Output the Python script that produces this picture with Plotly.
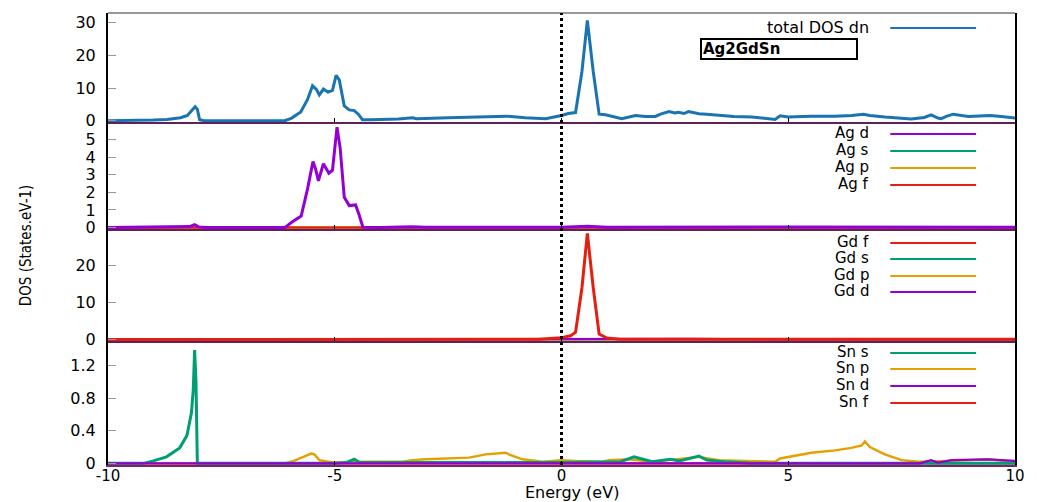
import plotly.graph_objects as go

# ---------------- data ----------------
E_total = [-10, -9.5, -9.0, -8.7, -8.4, -8.25, -8.15, -8.08, -8.03, -7.98, -7.9, -7.0, -6.1,
           -5.95, -5.75, -5.6, -5.49, -5.4, -5.34, -5.25, -5.15, -5.05, -4.97, -4.9, -4.79,
           -4.68, -4.57, -4.48, -4.39, -4.2, -3.6, -3.28, -3.2, -2.5, -1.5, -1.2, -0.8, -0.35,
           0.0, 0.15, 0.31, 0.45, 0.57, 0.7, 0.83, 0.97, 1.15, 1.33, 1.63, 1.85, 2.07, 2.2,
           2.37, 2.5, 2.58, 2.7, 2.8, 2.95, 3.03, 3.2, 3.47, 3.8, 4.2, 4.5, 4.71, 4.82, 5.0,
           5.15, 5.51, 6.03, 6.4, 6.66, 6.8, 7.13, 7.45, 7.71, 8.0, 8.15, 8.3, 8.37, 8.5, 8.64,
           8.97, 9.2, 9.45, 9.7, 10]
dos_total = [0, 0.05, 0.2, 0.4, 0.9, 1.6, 3.0, 4.3, 3.5, 0.3, 0.05, 0.0, 0.0,
             0.8, 2.7, 6.5, 10.7, 9.5, 7.9, 9.7, 8.8, 9.3, 13.9, 12.5, 4.5,
             3.3, 3.1, 2.0, 0.3, 0.3, 0.5, 0.9, 0.6, 0.9, 1.2, 1.4, 0.9, 0.6,
             1.6, 2.2, 2.5, 15.0, 30.7, 15.0, 2.0, 1.8, 1.2, 0.6, 1.6, 1.3, 1.3, 2.1,
             2.8, 2.4, 2.6, 2.2, 2.8, 2.4, 2.1, 2.0, 1.6, 1.3, 1.1, 0.8, 0.4, 1.5, 1.1,
             1.2, 1.4, 1.4, 1.6, 2.0, 1.6, 1.1, 0.8, 0.5, 1.0, 1.8, 0.8, 0.6, 1.4, 2.0,
             1.3, 1.4, 1.6, 1.3, 0.8]

E_ag_d = [-10, -8.5, -8.2, -8.09, -8.0, -7.8, -6.1, -5.95, -5.74, -5.6, -5.48, -5.42, -5.36,
          -5.25, -5.13, -5.05, -4.95, -4.88, -4.79, -4.68, -4.54, -4.46, -4.38, -4.0, -3.3,
          -3.0, -1.5, 0.0, 0.57, 1.0, 5.0, 10]
ag_d = [0, 0.02, 0.06, 0.17, 0.04, 0.0, 0.0, 0.3, 0.66, 2.2, 3.75, 3.3, 2.66,
        3.63, 3.09, 3.26, 5.71, 4.5, 1.72, 1.25, 1.29, 0.7, 0.02, 0.01, 0.05,
        0.02, 0.03, 0.02, 0.08, 0.02, 0.03, 0.02]
E_ag_s = [-10, -8.1, -5.0, 0.0, 1.6, 3.0, 10]
ag_s = [0, 0.03, 0.02, 0.01, 0.02, 0.02, 0.01]
E_ag_p = [-10, -5.5, -1.2, 0.0, 3.0, 6.7, 10]
ag_p = [0, 0.03, 0.03, 0.02, 0.03, 0.03, 0.02]
E_ag_f = [-10, 0.0, 10]
ag_f = [0, 0.0, 0]

E_gd_f = [-10, -0.5, 0.0, 0.2, 0.31, 0.45, 0.57, 0.7, 0.83, 1.0, 1.3, 3.0, 10]
gd_f = [0, 0.1, 0.5, 1.0, 2.0, 14.0, 28.8, 14.0, 1.5, 0.4, 0.1, 0.05, 0.05]
E_gd_s = [-10, -8.1, 0.0, 10]
gd_s = [0, 0.05, 0.02, 0.0]
E_gd_p = [-10, -5.5, 0.0, 10]
gd_p = [0, 0.05, 0.02, 0.0]
E_gd_d = [-10, -5.0, 0.0, 0.57, 2.5, 2.8, 5.0, 10]
gd_d = [0, 0.05, 0.1, 0.3, 0.3, 0.15, 0.05, 0.05]

E_sn_s = [-10, -9.22, -9.0, -8.71, -8.42, -8.26, -8.16, -8.12, -8.09, -8.06, -8.03, -7.0,
          -5.0, -4.75, -4.57, -4.45, -3.0, 0.0, 1.3, 1.6, 1.8, 2.0, 2.4, 2.6, 3.03, 3.2,
          3.6, 4.2, 10]
sn_s = [0, 0, 0.03, 0.08, 0.19, 0.34, 0.62, 0.9, 1.39, 1.0, 0.0, 0.0,
        0.0, 0.01, 0.05, 0.01, 0.01, 0.01, 0.02, 0.08, 0.05, 0.02, 0.05, 0.03, 0.09, 0.04,
        0.02, 0.0, 0.0]
E_sn_p = [-10, -6.1, -5.9, -5.7, -5.52, -5.45, -5.34, -5.05, -4.31, -3.51, -3.29, -2.99,
          -2.04, -1.67, -1.23, -1.12, -0.86, -0.42, 0.0, 0.31, 0.9, 1.05, 1.49, 2.0, 2.37,
          2.73, 3.03, 3.47, 4.2, 4.71, 4.82, 5.3, 5.51, 6.03, 6.39, 6.62, 6.69, 6.8, 7.13,
          7.5, 7.87, 8.6, 9.4, 10]
sn_p = [0, 0, 0.03, 0.08, 0.12, 0.11, 0.04, 0.01, 0.02, 0.02, 0.04, 0.05,
        0.07, 0.11, 0.13, 0.10, 0.05, 0.02, 0.04, 0.03, 0.02, 0.04, 0.05, 0.02, 0.04,
        0.06, 0.08, 0.04, 0.03, 0.02, 0.06, 0.11, 0.13, 0.16, 0.19, 0.22, 0.27, 0.20, 0.11,
        0.04, 0.02, 0.03, 0.05, 0.02]
E_sn_d = [-10, 7.9, 8.15, 8.3, 8.6, 9.4, 10]
sn_d = [0, 0.0, 0.04, 0.01, 0.04, 0.05, 0.03]
E_sn_f = [-10, 0.0, 10]
sn_f = [0, 0.0, 0]

x_tickvals = [-10, -5, 0, 5, 10]
x_ticktext = ["-10", "-5", "0", "5", "10"]
y1_ticks = [0, 10, 20, 30]
y2_ticks = [0, 1, 2, 3, 4, 5]
y3_ticks = [0, 10, 20]
y4_ticks = [0, 0.4, 0.8, 1.2]
y4_ticktext = ["0", "0.4", "0.8", "1.2"]

labels_p1 = ["total DOS dn"]
labels_p2 = ["Ag d", "Ag s", "Ag p", "Ag f"]
labels_p3 = ["Gd f", "Gd s", "Gd p", "Gd d"]
labels_p4 = ["Sn s", "Sn p", "Sn d", "Sn f"]
compound = "Ag2GdSn"

# ---------------- styling ----------------
BLUE = "#1a74b2"
PURPLE = "#9400d3"
GREEN = "#009e73"
ORANGE = "#e69f00"
RED = "#e51e10"

W, H = 1037, 502
L, R, T, B = 108, 20, 13, 37
PW, PH = W - L - R, H - T - B


def pxx(x):
    return (x - L) / PW


def pxy(y):
    return (H - B - y) / PH


TICKFONT = dict(family="DejaVu Sans", size=16, color="black")
XTICKFONT = dict(family="DejaVu Sans", size=15, color="black")
LEGFONT = dict(family="DejaVu Sans", size=15, color="black")

fig = go.Figure()

series = [
    ("x", "y", E_total, dos_total, BLUE, 3.0),
    ("x2", "y2", E_ag_s, ag_s, GREEN, 2.2),
    ("x2", "y2", E_ag_p, ag_p, ORANGE, 2.2),
    ("x2", "y2", E_ag_f, ag_f, RED, 2.2),
    ("x2", "y2", E_ag_d, ag_d, PURPLE, 3.0),
    ("x3", "y3", E_gd_s, gd_s, GREEN, 2.2),
    ("x3", "y3", E_gd_p, gd_p, ORANGE, 2.2),
    ("x3", "y3", E_gd_d, gd_d, PURPLE, 2.2),
    ("x3", "y3", E_gd_f, gd_f, RED, 3.0),
    ("x4", "y4", E_sn_f, sn_f, RED, 2.2),
    ("x4", "y4", E_sn_p, sn_p, ORANGE, 2.4),
    ("x4", "y4", E_sn_s, sn_s, GREEN, 3.0),
    ("x4", "y4", E_sn_d, sn_d, PURPLE, 2.2),
]
for xa, ya, xs, ys, col, w in series:
    fig.add_trace(go.Scatter(x=xs, y=ys, xaxis=xa, yaxis=ya, mode="lines",
                             line=dict(color=col, width=w), showlegend=False,
                             hoverinfo="skip"))

# panel pixel extents: top, bottom
panels = [(13, 122), (122, 229), (229, 341), (341, 465)]
ranges = [[-0.4, 33], [-0.08, 6], [-0.4, 30], [-0.02, 1.5]]
ytickvals = [y1_ticks, y2_ticks, y3_ticks, y4_ticks]
yticktext = [[str(v) for v in y1_ticks], [str(v) for v in y2_ticks],
             [str(v) for v in y3_ticks], y4_ticktext]

layout = dict(width=W, height=H, autosize=False,
              margin=dict(l=L, r=R, t=T, b=B),
              paper_bgcolor="white", plot_bgcolor="white",
              showlegend=False)

for i, ((top, bot), rng, tv, tt) in enumerate(zip(panels, ranges, ytickvals, yticktext)):
    n = "" if i == 0 else str(i + 1)
    layout["xaxis" + n] = dict(
        domain=[0, 1], anchor="y" + n, range=[-10, 10],
        tickvals=x_tickvals, ticktext=x_ticktext,
        ticks="inside", ticklen=4, tickwidth=1, tickcolor="black",
        showticklabels=(i == 3), tickfont=XTICKFONT, ticklabelstandoff=-4,
        showline=True, linecolor=("#5e2258" if i < 3 else "#7a2468"), linewidth=2,
        mirror=False, showgrid=False, zeroline=False,
        matches=None if i == 0 else "x")
    layout["yaxis" + n] = dict(
        domain=[pxy(bot), pxy(top)], anchor="x" + n, range=rng,
        tickvals=tv, ticktext=tt,
        ticks="inside", ticklen=8, tickwidth=1, tickcolor="#999999",
        tickfont=TICKFONT, ticklabelstandoff=7,
        showline=True, linecolor="black", linewidth=2, mirror=True,
        showgrid=False, zeroline=False)

fig.update_layout(**layout)

shapes = []
annotations = []

# top border (thin grey)
shapes.append(dict(type="line", xref="paper", yref="paper", x0=0, x1=1, y0=1, y1=1,
                   line=dict(color="#777777", width=1.5)))
# Fermi level dotted line
shapes.append(dict(type="line", xref="x4", yref="paper", x0=0, x1=0, y0=0, y1=1,
                   line=dict(color="black", width=3, dash="dot")))

# legends: text right-aligned, line sample to the right
TEXT_RIGHT = 872
LINE_X0, LINE_X1 = 892, 978
legend_rows = [
    (labels_p1, [BLUE], [28]),
    (labels_p2, [PURPLE, GREEN, ORANGE, RED], [134, 151, 168, 185]),
    (labels_p3, [RED, GREEN, ORANGE, PURPLE], [243, 259, 276, 292]),
    (labels_p4, [GREEN, ORANGE, PURPLE, RED], [353, 369, 386, 403]),
]
for labs, cols, ys in legend_rows:
    for lab, col, yy in zip(labs, cols, ys):
        annotations.append(dict(text=lab, xref="paper", yref="paper",
                                x=pxx(TEXT_RIGHT), y=pxy(yy - 1), xanchor="right",
                                yanchor="middle", showarrow=False,
                                font=(dict(family="DejaVu Sans", size=16, color="black")
                                      if lab == labels_p1[0] else LEGFONT),
                                borderpad=0))
        shapes.append(dict(type="line", xref="paper", yref="paper",
                           x0=pxx(LINE_X0), x1=pxx(LINE_X1), y0=pxy(yy), y1=pxy(yy),
                           line=dict(color=col, width=2)))

# compound name box
annotations.append(dict(text="<b>" + compound + "</b>", xref="paper", yref="paper",
                        x=pxx(701), y=pxy(49), xanchor="left", yanchor="middle",
                        showarrow=False, align="left", width=152, height=16,
                        bordercolor="black", borderwidth=2, borderpad=1,
                        font=dict(family="DejaVu Sans", size=15, color="black")))

# axis titles
annotations.append(dict(text="Energy (eV)", xref="paper", yref="paper",
                        x=pxx(573), y=pxy(503), xanchor="center", yanchor="bottom",
                        showarrow=False, borderpad=0,
                        font=dict(family="DejaVu Sans", size=16, color="black")))
annotations.append(dict(text="DOS (States.eV-1)", xref="paper", yref="paper",
                        x=pxx(26), y=pxy(245), xanchor="center", yanchor="middle",
                        textangle=-90, showarrow=False,
                        font=dict(family="Liberation Sans Narrow, DejaVu Sans Condensed, sans-serif",
                                  size=15, color="black")))

fig.update_layout(shapes=shapes, annotations=annotations)
fig.write_html("out.html")
